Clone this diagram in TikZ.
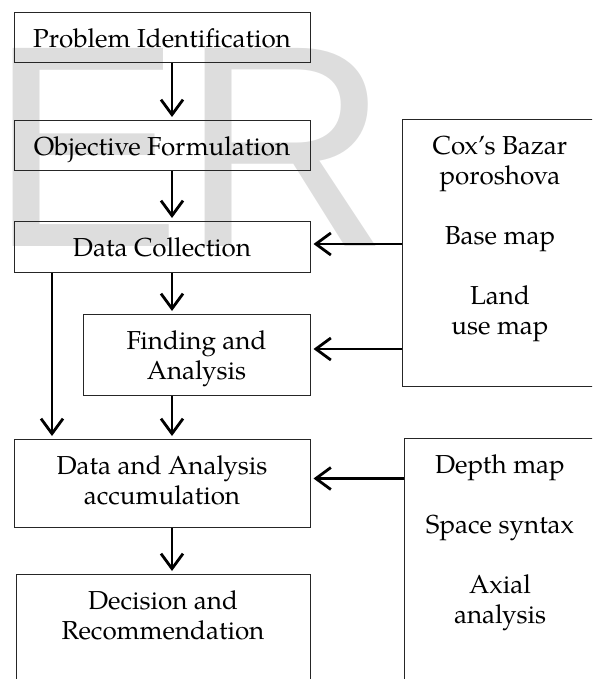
\documentclass[tikz,border=0pt]{standalone}
\usepackage{fontspec}
\usepackage{xcolor}
\usepackage{tikz}
\usetikzlibrary{calc}
\usetikzlibrary{arrows.meta}
\tikzset{>={Straight Barb[length=15pt,width=22pt]}}
\newfontfamily\wmfont{Liberation Sans}
\newfontfamily\pagella{TeX Gyre Pagella}
\definecolor{wmgray}{RGB}{221,221,221}
\newcommand{\boxfont}{\pagella\fontsize{26}{30}\selectfont}
\newcommand{\toptext}[3]{\parbox[t][#2][t]{#1}{\centering\vspace*{14pt}\strut #3}}
\tikzset{stage/.style={draw=black!85,line width=1pt,inner sep=0pt,anchor=north,font=\boxfont},
  flow/.style={->,line width=2.8pt,shorten >=3pt},
  wmark/.style={inner sep=0pt,anchor=base west,text=wmgray,font=\wmfont\fontsize{288}{288}\selectfont}}

\begin{document}
\begin{tikzpicture}[x=1pt,y=1pt]
\useasboundingbox (0,0) rectangle (592,-679);
\clip (0,0) rectangle (592,-679);
\node[wmark] (logo) at (-11,-246) {ER};
% left column
\node[stage] (prob) at (162,-12) {\toptext{296pt}{50pt}{Problem Identification}};
\node[stage] (obj) at (162,-120) {\toptext{296pt}{50pt}{Objective Formulation}};
\node[stage] (coll) at (162,-221) {\toptext{296pt}{51pt}{Data Collection}};
\node[stage] (find) at (196.5,-314) {\toptext{227pt}{81pt}{Finding and\\Analysis}};
\node[stage] (accum) at (162,-439) {\toptext{296pt}{88pt}{Data and Analysis\\accumulation}};
\node[stage] (dec) at (163,-574) {\toptext{294pt}{130pt}{Decision and\\Recommendation}};
% right column
\node[stage] (maps) at (500,-119) {\toptext{196pt}{267pt}{Cox’s Bazar\\poroshova\\[30pt]Base map\\[30pt]Land\\use map}};
\node[stage] (tools) at (500,-438) {\toptext{192pt}{280pt}{Depth map\\[30pt]Space syntax\\[30pt]Axial\\analysis}};
% arrows
\draw[flow] ([xshift=10pt]prob.south) -- ([xshift=10pt]obj.north);
\draw[flow] ([xshift=10pt]obj.south) -- ([xshift=10pt]coll.north);
\draw[flow] ([xshift=10pt]coll.south) -- ([xshift=10pt]coll.south |- find.north);
\draw[flow] ([xshift=-110pt]coll.south) -- ([xshift=-110pt]accum.north);
\draw[flow] ([xshift=10pt]accum.north |- find.south) -- ([xshift=10pt]accum.north);
\draw[flow] ([xshift=10pt]accum.south) -- ([xshift=10pt]accum.south |- dec.north);
\draw[flow] ([yshift=3pt]coll.east -| maps.west) -- ([yshift=3pt]coll.east);
\draw[flow] ([yshift=6pt]find.east -| maps.west) -- ([yshift=6pt]find.east);
\draw[flow] ([yshift=5pt]accum.east -| tools.west) -- ([yshift=5pt]accum.east);
\end{tikzpicture}
\end{document}
